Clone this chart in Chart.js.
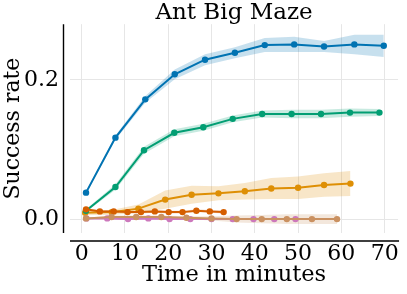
<!DOCTYPE html>
<html>
<head>
<meta charset="utf-8">
<script src="https://cdn.jsdelivr.net/npm/chart.js@4/dist/chart.umd.min.js"></script>
<style>
  html, body { margin: 0; padding: 0; background: #fff; }
  canvas { display: block; }
</style>
</head>
<body>
<canvas id="chart" width="407" height="294"></canvas>
<script>
// Values (time in minutes, success rate)
const xTicks = [0, 10, 20, 30, 40, 50, 60, 70];
const yTicks = [0.0, 0.2];

const blueT    = [1.0, 7.8, 14.7, 21.5, 28.5, 35.4, 42.3, 49.1, 56.0, 63.0, 69.8];
const blueY    = [0.038, 0.117, 0.172, 0.208, 0.229, 0.239, 0.250, 0.251, 0.248, 0.251, 0.249];
const blueLow  = [0.036, 0.114, 0.167, 0.201, 0.221, 0.231, 0.240, 0.240, 0.240, 0.237, 0.233];
const blueHigh = [0.040, 0.120, 0.177, 0.215, 0.237, 0.247, 0.260, 0.262, 0.256, 0.265, 0.265];

const orangeT    = [0.8, 6.95, 13.1, 19.3, 25.4, 31.6, 37.7, 43.8, 50.0, 56.0, 62.1];
const orangeY    = [0.009, 0.010, 0.015, 0.028, 0.035, 0.037, 0.040, 0.044, 0.045, 0.049, 0.051];
const orangeLow  = [0.006, 0.006, 0.009, 0.015, 0.022, 0.027, 0.028, 0.029, 0.029, 0.032, 0.033];
const orangeHigh = [0.011, 0.013, 0.021, 0.041, 0.048, 0.047, 0.052, 0.059, 0.061, 0.066, 0.069];

const greenT    = [1.0, 7.8, 14.4, 21.4, 28.1, 34.9, 41.7, 48.5, 55.3, 62.0, 68.8];
const greenY    = [0.012, 0.046, 0.099, 0.124, 0.132, 0.144, 0.151, 0.151, 0.151, 0.153, 0.153];
const greenLow  = [0.010, 0.042, 0.094, 0.119, 0.127, 0.139, 0.146, 0.145, 0.145, 0.147, 0.148];
const greenHigh = [0.014, 0.050, 0.104, 0.129, 0.137, 0.149, 0.156, 0.157, 0.157, 0.159, 0.158];

const redT    = [1.0, 4.2, 7.4, 10.6, 13.7, 16.9, 20.1, 23.3, 26.5, 29.6, 32.8];
const redY    = [0.014, 0.011, 0.011, 0.010, 0.010, 0.011, 0.010, 0.010, 0.012, 0.011, 0.010];
const redLow  = [0.012, 0.009, 0.009, 0.008, 0.008, 0.009, 0.008, 0.008, 0.010, 0.009, 0.008];
const redHigh = [0.016, 0.013, 0.013, 0.012, 0.012, 0.013, 0.012, 0.012, 0.014, 0.013, 0.012];

const pinkT    = [1.1, 5.9, 10.7, 15.4, 20.3, 25.1, 30.0, 34.9, 39.7, 44.5, 49.4];
const pinkY    = [0.001, 0.001, 0.000, 0.001, 0.000, 0.000, 0.000, 0.000, 0.000, 0.000, 0.000];
const pinkLow  = [0.000, 0.000, -0.001, 0.000, -0.001, -0.001, -0.001, -0.001, -0.001, -0.001, -0.001];
const pinkHigh = [0.002, 0.002, 0.001, 0.002, 0.001, 0.001, 0.001, 0.001, 0.001, 0.001, 0.001];

const tanT    = [1.0, 6.9, 12.6, 18.4, 24.2, 30.0, 35.8, 41.6, 47.4, 53.2, 59.0];
const tanY    = [0.001, 0.003, 0.003, 0.003, 0.002, 0.001, 0.000, 0.000, 0.000, 0.000, 0.000];
const tanLow  = [0.000, 0.001, 0.001, 0.001, 0.000, -0.002, -0.005, -0.006, -0.007, -0.007, -0.007];
const tanHigh = [0.002, 0.005, 0.005, 0.005, 0.004, 0.004, 0.005, 0.006, 0.007, 0.007, 0.007];

const series = [
    {t: blueT,   y: blueY,   lo: blueLow,   hi: blueHigh,   color: [1, 115, 178]},
    {t: orangeT, y: orangeY, lo: orangeLow, hi: orangeHigh, color: [222, 143, 5]},
    {t: greenT,  y: greenY,  lo: greenLow,  hi: greenHigh,  color: [2, 158, 115]},
    {t: redT,    y: redY,    lo: redLow,    hi: redHigh,    color: [213, 94, 0]},
    {t: pinkT,   y: pinkY,   lo: pinkLow,   hi: pinkHigh,   color: [204, 120, 188]},
    {t: tanT,    y: tanY,    lo: tanLow,    hi: tanHigh,    color: [202, 145, 97]}
];

function pts(t, v) {
    return t.map((x, i) => ({x: x, y: v[i]}));
}
function rgb(c, a) {
    return 'rgba(' + c[0] + ',' + c[1] + ',' + c[2] + ',' + a + ')';
}

// bands first (upper, then lower filled to it), then the lines on top
var datasets = [];
series.forEach(function(s, k) {
    datasets.push({
        data: pts(s.t, s.hi), borderWidth: 0, borderColor: 'transparent',
        pointRadius: 0, fill: false, order: 20 + k
    });
    datasets.push({
        data: pts(s.t, s.lo), borderWidth: 0, borderColor: 'transparent',
        pointRadius: 0, fill: '-1', backgroundColor: rgb(s.color, 0.22), order: 20 + k
    });
});
series.forEach(function(s, k) {
    datasets.push({
        data: pts(s.t, s.y),
        borderColor: rgb(s.color, 1),
        backgroundColor: rgb(s.color, 1),
        borderWidth: 2,
        pointRadius: 3.2,
        pointBorderWidth: 0,
        pointBackgroundColor: rgb(s.color, 1),
        fill: false,
        order: 10 - k
    });
});

const FONT = "'DejaVu Serif', serif";

// offset spines, like seaborn despine(offset=...)
const spines = {
    id: 'spines',
    afterDraw(chart) {
        const {ctx, chartArea: a} = chart;
        ctx.save();
        ctx.strokeStyle = '#000';
        ctx.lineWidth = 1.4;
        ctx.beginPath();
        ctx.moveTo(a.left - 6.5, a.top);
        ctx.lineTo(a.left - 6.5, a.bottom);
        ctx.moveTo(a.left, a.bottom + 8);
        ctx.lineTo(a.right + 1, a.bottom + 8);
        ctx.stroke();
        ctx.restore();
    }
};

new Chart(document.getElementById('chart'), {
    type: 'line',
    data: {datasets: datasets},
    plugins: [spines],
    options: {
        responsive: false,
        animation: false,
        layout: {padding: {left: 0, right: 1, top: 0, bottom: 0}},
        elements: {line: {tension: 0}},
        plugins: {
            legend: {display: false},
            tooltip: {enabled: false},
            title: {
                display: true,
                text: 'Ant Big Maze',
                fullSize: false,
                color: '#000',
                font: {family: FONT, size: 23, weight: 'normal', lineHeight: 1},
                padding: {top: 0, bottom: 0}
            }
        },
        scales: {
            x: {
                type: 'linear',
                min: -2.7,
                max: 73.1,
                afterFit: function(scale) { scale.height = 61; },
                afterBuildTicks: function(scale) { scale.ticks = xTicks.map(v => ({value: v})); },
                grid: {color: '#e6e6e6', lineWidth: 1, drawTicks: false},
                border: {display: false},
                ticks: {
                    color: '#000', padding: 8, maxRotation: 0,
                    font: {family: FONT, size: 22}
                },
                title: {
                    display: true, text: 'Time in minutes', color: '#000',
                    font: {family: FONT, size: 22.5, lineHeight: 1.2},
                    padding: {top: 0, bottom: 5}
                }
            },
            y: {
                min: -0.02,
                max: 0.28,
                afterFit: function(scale) { scale.width = 70; },
                afterBuildTicks: function(scale) { scale.ticks = yTicks.map(v => ({value: v})); },
                grid: {color: '#e6e6e6', lineWidth: 1, drawTicks: false},
                border: {display: false},
                ticks: {
                    color: '#000', padding: 11,
                    font: {family: FONT, size: 22},
                    callback: v => v.toFixed(1)
                },
                title: {
                    display: true, text: 'Success rate', color: '#000',
                    font: {family: FONT, size: 22, lineHeight: 1.2},
                    padding: {top: 0, bottom: 0}
                }
            }
        }
    }
});
</script>
</body>
</html>
